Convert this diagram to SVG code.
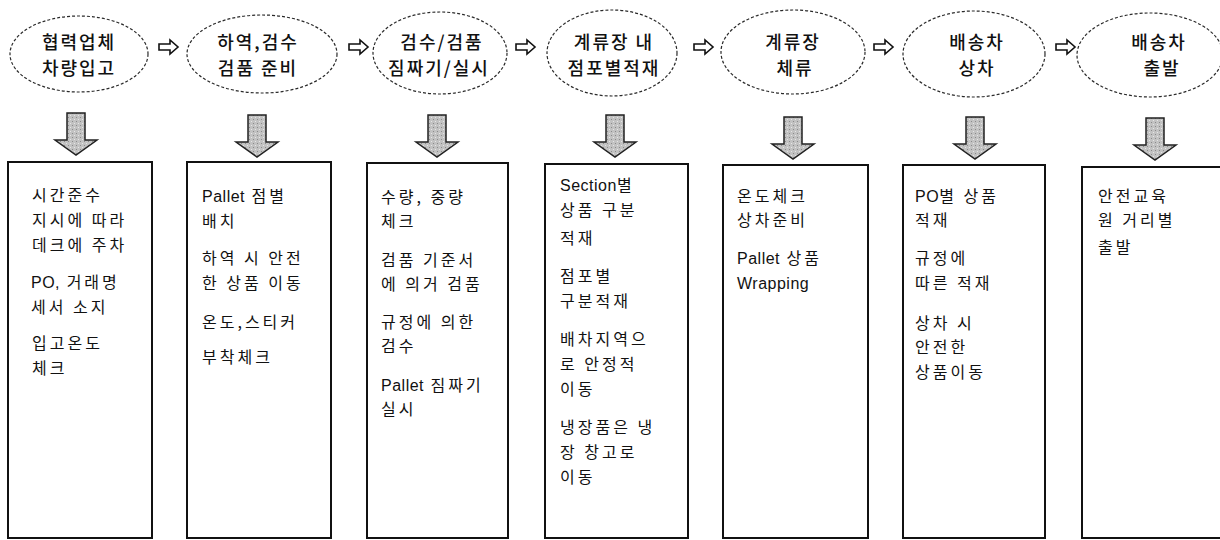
<svg xmlns="http://www.w3.org/2000/svg" width="1220" height="540" viewBox="0 0 1220 540">
<style>
  .ell { fill: #ffffff; stroke: #2a2a2a; stroke-width: 1.2; stroke-dasharray: 3 2; }
  .et { font-family: "Noto Sans CJK KR", "Noto Sans", sans-serif; font-size: 18px; fill: #111; text-anchor: middle; font-weight: 500; letter-spacing: 2px; }
  .box { fill: #ffffff; stroke: #111; stroke-width: 2; }
  .bt { font-family: "Noto Sans CJK KR", "Noto Sans", sans-serif; font-size: 16px; fill: #111; letter-spacing: 3px; }
  .lat { font-family: "Liberation Sans", Arial, sans-serif; letter-spacing: 0.5px; }
  .ra { fill: #ffffff; stroke: #111; stroke-width: 1.6; stroke-linejoin: miter; }
  .da { fill: url(#stip); stroke: #222; stroke-width: 1.5; stroke-linejoin: miter; }
</style>
<defs>
  <pattern id="stip" width="4" height="4" patternUnits="userSpaceOnUse">
    <rect width="4" height="4" fill="#c2c2c2"/>
    <rect x="0" y="0" width="1" height="1" fill="#8a8a8a"/>
    <rect x="2" y="2" width="1" height="1" fill="#e6e6e6"/>
  </pattern>
  <path id="rarrow" d="M0,-3 L11,-3 L11,-7 L19,0 L11,7 L11,3 L0,3 Z"/>
  <path id="darrow" d="M-9,0 L9,0 L9,27 L21,27 L0,42 L-21,27 L-9,27 Z"/>
</defs>
<rect width="1220" height="540" fill="#ffffff"/>

<g id="node-step-1">
  <ellipse class="ell" cx="79" cy="54" rx="69" ry="38"/>
  <text class="et" x="79" y="49">협력업체</text>
  <text class="et" x="79" y="75">차량입고</text>
</g>
<g id="node-step-2">
  <ellipse class="ell" cx="262" cy="54" rx="75" ry="39"/>
  <text class="et" x="258" y="49">하역,검수</text>
  <text class="et" x="258" y="75">검품 준비</text>
</g>
<g id="node-step-3">
  <ellipse class="ell" cx="440" cy="53" rx="67" ry="41"/>
  <text class="et" x="442" y="49">검수/검품</text>
  <text class="et" x="439" y="75">짐짜기/실시</text>
</g>
<g id="node-step-4">
  <ellipse class="ell" cx="612" cy="53" rx="65" ry="43"/>
  <text class="et" x="614" y="49">계류장 내</text>
  <text class="et" x="614" y="75">점포별적재</text>
</g>
<g id="node-step-5">
  <ellipse class="ell" cx="793" cy="52" rx="72" ry="42"/>
  <text class="et" x="793" y="49">계류장</text>
  <text class="et" x="795" y="75">체류</text>
</g>
<g id="node-step-6">
  <ellipse class="ell" cx="974" cy="54" rx="71" ry="43"/>
  <text class="et" x="977" y="49">배송차</text>
  <text class="et" x="977" y="75">상차</text>
</g>
<g id="node-step-7">
  <ellipse class="ell" cx="1150" cy="55" rx="73" ry="42"/>
  <text class="et" x="1159" y="49">배송차</text>
  <text class="et" x="1162" y="75">출발</text>
</g>

<g id="connectors">
  <use href="#rarrow" class="ra" x="159" y="47"/>
  <use href="#rarrow" class="ra" x="349" y="47"/>
  <use href="#rarrow" class="ra" x="516" y="47"/>
  <use href="#rarrow" class="ra" x="694" y="47"/>
  <use href="#rarrow" class="ra" x="874" y="47"/>
  <use href="#rarrow" class="ra" x="1056" y="47"/>
  <use href="#darrow" class="da" x="76" y="113"/>
  <use href="#darrow" class="da" x="257" y="115"/>
  <use href="#darrow" class="da" x="437" y="115"/>
  <use href="#darrow" class="da" x="615" y="115"/>
  <use href="#darrow" class="da" x="793" y="117"/>
  <use href="#darrow" class="da" x="975" y="117"/>
  <use href="#darrow" class="da" x="1155" y="118"/>
</g>

<g id="node-detail-1">
  <rect class="box" x="8" y="162" width="144" height="376"/>
  <text class="bt" x="32" y="201">시간준수</text>
  <text class="bt" x="32" y="226">지시에 따라</text>
  <text class="bt" x="32" y="251">데크에 주차</text>
  <text class="bt" x="31" y="288"><tspan class="lat">PO,</tspan> 거래명</text>
  <text class="bt" x="31" y="313">세서 소지</text>
  <text class="bt" x="32" y="349">입고온도</text>
  <text class="bt" x="32" y="374">체크</text>
</g>
<g id="node-detail-2">
  <rect class="box" x="187" y="162" width="144" height="376"/>
  <text class="bt" x="202" y="202"><tspan class="lat">Pallet</tspan> 점별</text>
  <text class="bt" x="202" y="227">배치</text>
  <text class="bt" x="202" y="264">하역 시 안전</text>
  <text class="bt" x="202" y="289">한 상품 이동</text>
  <text class="bt" x="202" y="328">온도,스티커</text>
  <text class="bt" x="202" y="363">부착체크</text>
</g>
<g id="node-detail-3">
  <rect class="box" x="367" y="163" width="141" height="375"/>
  <text class="bt" x="381" y="203">수량, 중량</text>
  <text class="bt" x="381" y="227">체크</text>
  <text class="bt" x="381" y="266">검품 기준서</text>
  <text class="bt" x="381" y="290">에 의거 검품</text>
  <text class="bt" x="381" y="328">규정에 의한</text>
  <text class="bt" x="381" y="352">검수</text>
  <text class="bt" x="381" y="391"><tspan class="lat">Pallet</tspan> 짐짜기</text>
  <text class="bt" x="381" y="415">실시</text>
</g>
<g id="node-detail-4">
  <rect class="box" x="545" y="164" width="143" height="374"/>
  <text class="bt" x="560" y="191"><tspan class="lat">Section</tspan>별</text>
  <text class="bt" x="560" y="216">상품 구분</text>
  <text class="bt" x="560" y="244">적재</text>
  <text class="bt" x="560" y="282">점포별</text>
  <text class="bt" x="560" y="307">구분적재</text>
  <text class="bt" x="560" y="345">배차지역으</text>
  <text class="bt" x="560" y="370">로 안정적</text>
  <text class="bt" x="560" y="395">이동</text>
  <text class="bt" x="560" y="433">냉장품은 냉</text>
  <text class="bt" x="560" y="458">장 창고로</text>
  <text class="bt" x="560" y="483">이동</text>
</g>
<g id="node-detail-5">
  <rect class="box" x="723" y="165" width="145" height="373"/>
  <text class="bt" x="737" y="202">온도체크</text>
  <text class="bt" x="737" y="226">상차준비</text>
  <text class="bt" x="737" y="264"><tspan class="lat">Pallet</tspan> 상품</text>
  <text class="bt" x="737" y="289"><tspan class="lat">Wrapping</tspan></text>
</g>
<g id="node-detail-6">
  <rect class="box" x="903" y="165" width="142" height="373"/>
  <text class="bt" x="915" y="202"><tspan class="lat">PO</tspan>별 상품</text>
  <text class="bt" x="915" y="226">적재</text>
  <text class="bt" x="915" y="264">규정에</text>
  <text class="bt" x="915" y="289">따른 적재</text>
  <text class="bt" x="915" y="329">상차 시</text>
  <text class="bt" x="915" y="353">안전한</text>
  <text class="bt" x="915" y="378">상품이동</text>
</g>
<g id="node-detail-7">
  <rect class="box" x="1082" y="167" width="150" height="371"/>
  <text class="bt" x="1098" y="202">안전교육</text>
  <text class="bt" x="1098" y="226">원 거리별</text>
  <text class="bt" x="1098" y="253">출발</text>
</g>
</svg>
